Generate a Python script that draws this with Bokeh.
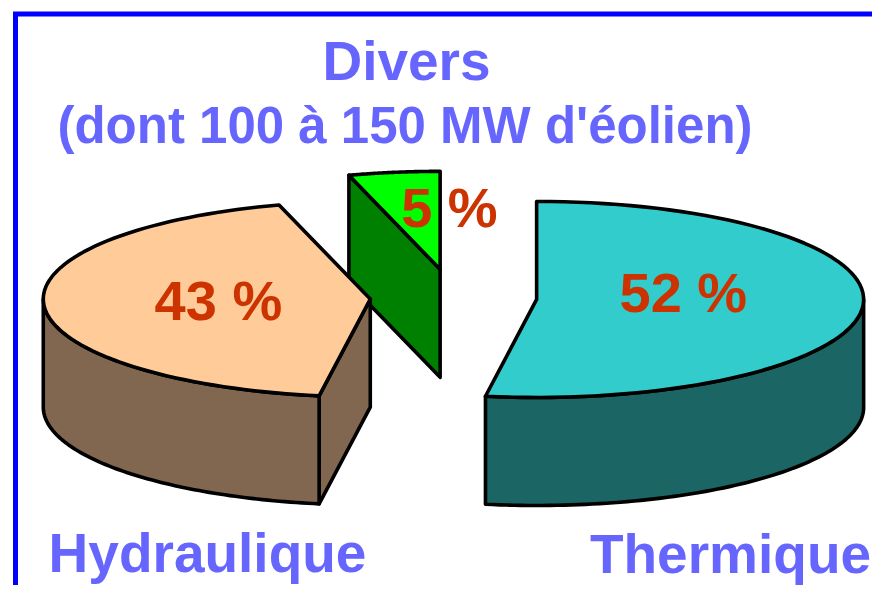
import numpy as np
from bokeh.plotting import figure
from bokeh.models import Range1d, ColumnDataSource
from bokeh.embed import file_html
from bokeh.resources import INLINE
from bokeh.core.properties import value

# ---------------- data ----------------
categories = ["Thermique", "Hydraulique", "Divers"]
shares = [52.5, 43.0, 4.5]
pct_labels = ["52 %", "43 %", "5 %"]
title_lines = ["Divers", "(dont 100 à 150 MW d'éolien)"]

# ---------------- styles / geometry ----------------
TOP_COLORS = ["#33CCCC", "#FFCC99", "#00FF00"]
SIDE_COLORS = ["#1B6565", "#816650", "#008000"]
EXPLODE = [0.255, 0.255, 0.29]
LABEL_NUDGE = [(0, -10), (-5, -1), (30, -18)]
CX, CY = 453.0, 297.0
RX, RY = 327.0, 98.0
DEPTH = 108.0
START = 90.0
LABEL_K = 0.45
PCT_SIZE = 56
CAT_SIZE = 55
FONT = "Liberation Sans"

W, H = 872, 585
p = figure(width=W, height=H, x_range=Range1d(0, W), y_range=Range1d(H, 0),
           output_backend="svg", toolbar_location=None, min_border=0,
           x_axis_location=None, y_axis_location=None)
p.grid.visible = False
p.outline_line_color = None
p.background_fill_color = "white"


def arc(cx, cy, a, b, n=80):
    t = np.radians(np.linspace(a, b, n))
    return list(cx + RX * np.cos(t)), list(cy - RY * np.sin(t))


total = float(sum(shares))
slices = []
cum = 0.0
for i, s in enumerate(shares):
    span = 360.0 * s / total
    hi = START - cum
    lo = hi - span
    cum += span
    mid = 0.5 * (lo + hi)
    mr = np.radians(mid)
    cx = CX + EXPLODE[i] * RX * np.cos(mr)
    cy = CY - EXPLODE[i] * RY * np.sin(mr)
    slices.append(dict(i=i, lo=lo, hi=hi, mid=mid, cx=cx, cy=cy))

xs, ys, fills = [], [], []
for sl in sorted(slices, key=lambda d: d["cy"]):
    i, lo, hi, cx, cy = sl["i"], sl["lo"], sl["hi"], sl["cx"], sl["cy"]
    # radial side faces
    for edge, vis in ((lo, np.cos(np.radians(lo)) > 1e-6), (hi, np.cos(np.radians(hi)) < -1e-6)):
        if vis:
            rx = cx + RX * np.cos(np.radians(edge))
            ry = cy - RY * np.sin(np.radians(edge))
            xs.append([cx, rx, rx, cx])
            ys.append([cy, ry, ry + DEPTH, cy + DEPTH])
            fills.append(SIDE_COLORS[i])
    # outer (front) wall
    for k in (-2, -1, 0, 1):
        a = max(lo, 180 + 360 * k)
        b = min(hi, 360 + 360 * k)
        if b - a > 0.01:
            tx, ty = arc(cx, cy, a, b)
            xs.append(tx + tx[::-1])
            ys.append(ty + [y + DEPTH for y in ty[::-1]])
            fills.append(SIDE_COLORS[i])
    # top face
    tx, ty = arc(cx, cy, lo, hi)
    xs.append([cx] + tx)
    ys.append([cy] + ty)
    fills.append(TOP_COLORS[i])

src = ColumnDataSource(dict(xs=xs, ys=ys, fill=fills))
p.patches("xs", "ys", source=src, fill_color="fill", line_color="black",
          line_width=3.6, line_join="round")

# percentage labels
lx, ly = [], []
for sl in slices:
    mr = np.radians(sl["mid"])
    lx.append(sl["cx"] + LABEL_K * RX * np.cos(mr) + LABEL_NUDGE[sl["i"]][0])
    ly.append(sl["cy"] - LABEL_K * RY * np.sin(mr) + LABEL_NUDGE[sl["i"]][1])
p.text(x=lx, y=ly, text=pct_labels, text_color="#CC3300", text_font=value(FONT),
       text_font_style="bold", text_font_size=f"{PCT_SIZE}px", text_align="center",
       text_baseline="middle")

# category labels
p.text(x=[406, 404.5], y=[60, 125], text=title_lines, text_color="#6666FF",
       text_font=value(FONT), text_font_style="bold", text_font_size=[f"{CAT_SIZE}px", "51px"],
       text_align="center", text_baseline="middle")
p.text(x=[207, 730], y=[552, 553], text=[categories[1], categories[0]], text_color="#6666FF",
       text_font=value(FONT), text_font_style="bold", text_font_size=f"{CAT_SIZE}px",
       text_align="center", text_baseline="middle")

# frame border
p.line(x=[15, 15, 960], y=[700, 13.5, 13.5], line_color="#0000FF", line_width=5,
       line_join="miter")

open("out.html", "w").write(file_html(p, INLINE))
